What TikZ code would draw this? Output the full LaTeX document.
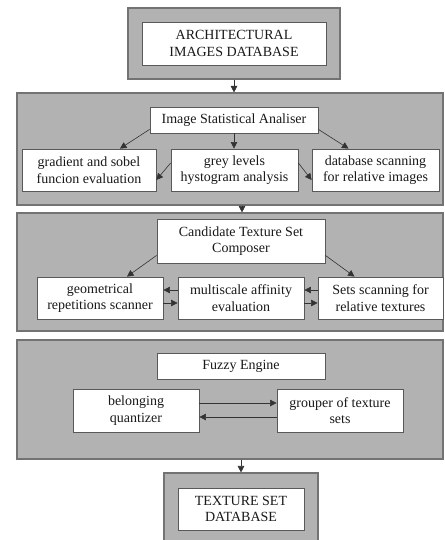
\documentclass[tikz,border=0pt]{standalone}
\usepackage{fontspec}
\setmainfont{Liberation Serif}
\usetikzlibrary{arrows.meta}

\begin{document}
\begin{tikzpicture}[x=1pt,y=-1pt,
    panel/.style={draw=black!55, line width=1.1pt, fill=black!30, inner sep=0pt},
    blk/.style={draw=black!65, line width=.8pt, fill=white, inner sep=0pt,
        align=center, text=black!90, font=\fontsize{14}{16.5}\selectfont},
    arr/.style={-{Triangle[width=6.5pt,length=6.5pt]}, black!80, line width=.6pt}]
% \draw [help lines] (0,0) grid (444,540)  ;
\useasboundingbox (0,0) rectangle (444,540) ;
\clip (0,0) rectangle (444,540) ;

% top database
\node [panel, minimum width=212pt, minimum height=71pt] (dbout) at (234,43.5) {} ;
\node [blk, minimum width=184pt, minimum height=43pt] (dbin) at (234,43.5) {ARCHITECTURAL\\IMAGES DATABASE} ;

% analiser
\node [panel, minimum width=426pt, minimum height=112pt] (p1) at (230,149) {} ;
\node [blk, minimum width=168pt, minimum height=26pt] (isa) at (234,120) {Image Statistical Analiser} ;
\node [blk, minimum width=134pt, minimum height=42pt] (grad) at (89,170) {gradient and sobel\\funcion evaluation} ;
\node [blk, minimum width=127pt, minimum height=42pt] (grey) at (234.5,170) {grey levels\\hystogram analysis} ;
\node [blk, minimum width=127pt, minimum height=42pt] (dbscan) at (375.5,170) {database scanning\\for relative images} ;

% composer
\node [panel, minimum width=426pt, minimum height=118pt] (p2) at (230,272) {} ;
\node [blk, minimum width=168pt, minimum height=44pt] (cand) at (241,241) {Candidate Texture Set\\Composer} ;
\node [blk, minimum width=126pt, minimum height=42pt] (geom) at (100,298) {geometrical\\repetitions scanner} ;
\node [blk, minimum width=126pt, minimum height=42pt] (multi) at (241,298) {multiscale affinity\\evaluation} ;
\node [blk, minimum width=125pt, minimum height=42pt] (sets) at (380.5,298) {Sets scanning for\\relative textures} ;

% fuzzy engine
\node [panel, minimum width=426pt, minimum height=119pt] (p3) at (230,399.5) {} ;
\node [blk, minimum width=168pt, minimum height=26pt] (fuzzy) at (241,366) {Fuzzy Engine} ;
\node [blk, minimum width=126pt, minimum height=43pt] (belong) at (136,410.5) {belonging\\quantizer} ;
\node [blk, minimum width=126pt, minimum height=43pt] (grouper) at (340,410.5) {grouper of texture\\sets} ;

% texture set database
\node [panel, minimum width=154pt, minimum height=75pt] (tsout) at (241,510.5) {} ;
\node [blk, minimum width=126pt, minimum height=42pt] (tsin) at (241,509) {TEXTURE SET\\DATABASE} ;

\draw [arr] (dbout.south) -- (dbout.south |- p1.north) ;
\draw [arr] ([xshift=12pt]p1.south) -- ([xshift=12pt]p2.north) ;
\draw [arr] (p3.south -| tsout.north) -- (tsout.north) ;

\draw [arr] ([yshift=4pt]isa.south west) -- ([xshift=31pt]grad.north) ;
\draw [arr] (isa.south) -- (isa.south |- grey.north) ;
\draw [arr] ([yshift=4pt]isa.south east) -- ([xshift=-27pt]dbscan.north) ;
\draw [arr] ([yshift=7pt]grey.west) -- ([yshift=-10pt]grad.east) ;
\draw [arr] ([yshift=7pt]grey.east) -- ([yshift=-10pt]dbscan.west) ;

\draw [arr] ([yshift=8pt]cand.south west) -- ([xshift=27pt]geom.north) ;
\draw [arr] ([yshift=8pt]cand.south east) -- ([xshift=-26pt]sets.north) ;
\draw [arr] ([yshift=8pt]multi.west) -- ([yshift=8pt]geom.east) ;
\draw [arr] ([yshift=-5pt]geom.east) -- ([yshift=-5pt]multi.west) ;
\draw [arr] ([yshift=8pt]sets.west) -- ([yshift=8pt]multi.east) ;
\draw [arr] ([yshift=-5pt]multi.east) -- ([yshift=-5pt]sets.west) ;

\draw [arr] ([yshift=7.5pt]belong.east) -- ([yshift=7.5pt]grouper.west) ;
\draw [arr] ([yshift=-6.5pt]grouper.west) -- ([yshift=-6.5pt]belong.east) ;
\end{tikzpicture}
\end{document}
